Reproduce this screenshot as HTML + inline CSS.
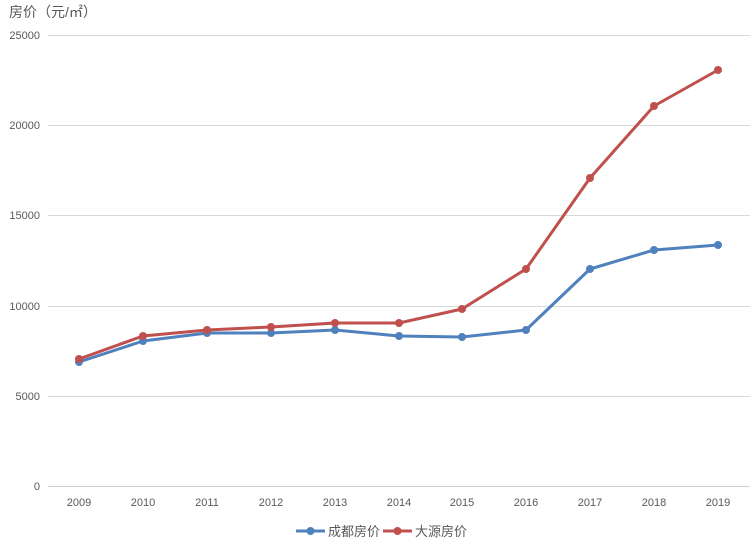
<!DOCTYPE html>
<html><head><meta charset="utf-8"><style>body{margin:0;background:#fff}svg{display:block}text{font-family:"Liberation Sans","Noto Sans CJK SC",sans-serif}</style></head><body>
<svg width="755" height="544" viewBox="0 0 755 544">
<rect width="755" height="544" fill="#fff"/>
<text x="9" y="17" font-size="14" fill="#595959">房价（元/㎡）</text>
<g stroke="#d9d9d9" stroke-width="1">
<line x1="48" y1="35.5" x2="750" y2="35.5"/>
<line x1="48" y1="125.5" x2="750" y2="125.5"/>
<line x1="48" y1="215.5" x2="750" y2="215.5"/>
<line x1="48" y1="306.5" x2="750" y2="306.5"/>
<line x1="48" y1="396.5" x2="750" y2="396.5"/>
<line x1="48" y1="486.5" x2="750" y2="486.5" stroke="#cfcfcf"/>
</g>
<g font-size="11" fill="#595959" text-anchor="end">
<text x="40" y="39">25000</text><text x="40" y="129">20000</text><text x="40" y="219">15000</text><text x="40" y="310">10000</text><text x="40" y="400">5000</text><text x="40" y="490">0</text>
</g>
<g font-size="11" fill="#595959" text-anchor="middle">
<text x="79" y="506">2009</text><text x="143" y="506">2010</text><text x="207" y="506">2011</text><text x="271" y="506">2012</text><text x="335" y="506">2013</text><text x="399" y="506">2014</text><text x="462" y="506">2015</text><text x="526" y="506">2016</text><text x="590" y="506">2017</text><text x="654" y="506">2018</text><text x="718" y="506">2019</text>
</g>
<g fill="none" stroke-width="3" stroke-linejoin="round">
<polyline stroke="#4f81bd" points="79,362 143,341 207,333 271,333 335,330 399,336 462,337 526,330 590,269 654,250 718,245"/>
<polyline stroke="#c0504d" points="79,359 143,336 207,330 271,327 335,323 399,323 462,309 526,269 590,178 654,106 718,70"/>
</g>
<g fill="#4f81bd">
<circle cx="79" cy="362" r="4"/><circle cx="143" cy="341" r="4"/><circle cx="207" cy="333" r="4"/><circle cx="271" cy="333" r="4"/><circle cx="335" cy="330" r="4"/><circle cx="399" cy="336" r="4"/><circle cx="462" cy="337" r="4"/><circle cx="526" cy="330" r="4"/><circle cx="590" cy="269" r="4"/><circle cx="654" cy="250" r="4"/><circle cx="718" cy="245" r="4"/>
</g>
<g fill="#c0504d">
<circle cx="79" cy="359" r="4"/><circle cx="143" cy="336" r="4"/><circle cx="207" cy="330" r="4"/><circle cx="271" cy="327" r="4"/><circle cx="335" cy="323" r="4"/><circle cx="399" cy="323" r="4"/><circle cx="462" cy="309" r="4"/><circle cx="526" cy="269" r="4"/><circle cx="590" cy="178" r="4"/><circle cx="654" cy="106" r="4"/><circle cx="718" cy="70" r="4"/>
</g>
<line x1="296" y1="531" x2="325" y2="531" stroke="#4f81bd" stroke-width="3"/><circle cx="310.5" cy="531" r="4" fill="#4f81bd"/>
<text x="328" y="536" font-size="13" fill="#595959">成都房价</text>
<line x1="383" y1="531" x2="412" y2="531" stroke="#c0504d" stroke-width="3"/><circle cx="397.5" cy="531" r="4" fill="#c0504d"/>
<text x="415" y="536" font-size="13" fill="#595959">大源房价</text>
</svg>
</body></html>
